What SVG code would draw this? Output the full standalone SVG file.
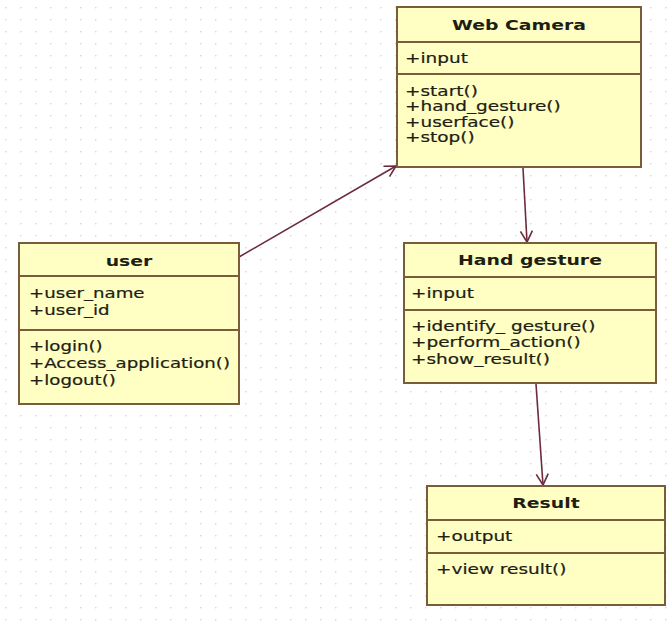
<svg xmlns="http://www.w3.org/2000/svg" width="672" height="626" viewBox="0 0 672 626">
  <defs>
    <pattern id="grid" x="5" y="7" width="15" height="12" patternUnits="userSpaceOnUse">
      <circle cx="0.8" cy="0.8" r="0.8" fill="#cfcfcf"/>
    </pattern>
    <marker id="open" markerWidth="14" markerHeight="14" refX="12" refY="7" orient="auto" markerUnits="userSpaceOnUse">
      <path d="M1,1 L12,7 L1,13" fill="none" stroke="#6b2d3c" stroke-width="1.6"/>
    </marker>
    <style>
      .box { fill: #ffffc4; stroke: #7a5c3a; stroke-width: 2; }
      .div { stroke: #7a5c3a; stroke-width: 2; }
      .t { font-family: "DejaVu Sans", Verdana, sans-serif; font-size: 14px; fill: #1e1e14; stroke: #1e1e14; stroke-width: 0.2; }
      .h { font-family: "DejaVu Sans", Verdana, sans-serif; font-size: 14.5px; font-weight: bold; fill: #1e1e14; text-anchor: middle; }
      .c { stroke: #6b2d3c; stroke-width: 1.6; fill: none; marker-end: url(#open); }
    </style>
  </defs>
  <rect width="672" height="626" fill="#ffffff"/>
  <rect width="672" height="626" fill="url(#grid)"/>

  <g id="connectors">
    <line class="c" x1="239" y1="257" x2="396" y2="166"/>
    <line class="c" x1="523" y1="168" x2="527" y2="242"/>
    <line class="c" x1="536" y1="384" x2="543" y2="485"/>
  </g>

  <g id="webcamera">
    <rect class="box" x="397" y="7" width="244" height="160"/>
    <line class="div" x1="397" y1="42" x2="641" y2="42"/>
    <line class="div" x1="397" y1="74" x2="641" y2="74"/>
    <text class="h" transform="translate(519,30) scale(1.3,1)">Web Camera</text>
    <text class="t" transform="translate(405,63) scale(1.32,1)">+input</text>
    <text class="t" transform="translate(405,96) scale(1.32,1)">+start()</text>
    <text class="t" transform="translate(405,111) scale(1.32,1)">+hand_gesture()</text>
    <text class="t" transform="translate(405,127) scale(1.32,1)">+userface()</text>
    <text class="t" transform="translate(405,142) scale(1.32,1)">+stop()</text>
  </g>

  <g id="user">
    <rect class="box" x="19" y="243" width="220" height="161"/>
    <line class="div" x1="19" y1="276" x2="239" y2="276"/>
    <line class="div" x1="19" y1="330" x2="239" y2="330"/>
    <text class="h" transform="translate(129,266) scale(1.3,1)">user</text>
    <text class="t" transform="translate(29,298) scale(1.3,1)">+user_name</text>
    <text class="t" transform="translate(29,315) scale(1.3,1)">+user_id</text>
    <text class="t" transform="translate(29,351) scale(1.3,1)">+login()</text>
    <text class="t" transform="translate(29,368) scale(1.3,1)">+Access_application()</text>
    <text class="t" transform="translate(29,385) scale(1.3,1)">+logout()</text>
  </g>

  <g id="handgesture">
    <rect class="box" x="404" y="243" width="252" height="140"/>
    <line class="div" x1="404" y1="277" x2="656" y2="277"/>
    <line class="div" x1="404" y1="310" x2="656" y2="310"/>
    <text class="h" transform="translate(530,265) scale(1.3,1)">Hand gesture</text>
    <text class="t" transform="translate(411,298) scale(1.32,1)">+input</text>
    <text class="t" transform="translate(411,331) scale(1.32,1)">+identify_ gesture()</text>
    <text class="t" transform="translate(411,347) scale(1.32,1)">+perform_action()</text>
    <text class="t" transform="translate(411,364) scale(1.32,1)">+show_result()</text>
  </g>

  <g id="result">
    <rect class="box" x="427" y="486" width="238" height="119"/>
    <line class="div" x1="427" y1="520" x2="665" y2="520"/>
    <line class="div" x1="427" y1="553" x2="665" y2="553"/>
    <text class="h" transform="translate(546,508) scale(1.3,1)">Result</text>
    <text class="t" transform="translate(436,541) scale(1.32,1)">+output</text>
    <text class="t" transform="translate(436,574) scale(1.32,1)">+view result()</text>
  </g>
</svg>
